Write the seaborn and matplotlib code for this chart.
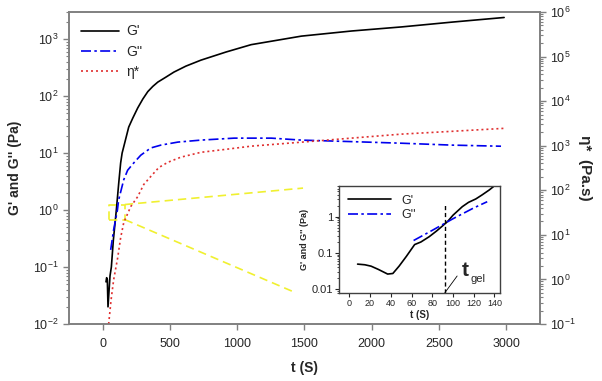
import numpy as np
import matplotlib
matplotlib.use("Agg")
import matplotlib.pyplot as plt
import matplotlib.ticker as mticker
import seaborn as sns
import pandas as pd

sns.set_style("ticks")
plt.rcParams['font.family'] = ['Liberation Sans', 'DejaVu Sans']
plt.rcParams['mathtext.default'] = 'regular'

# main curves
t_g1 = [25, 30, 35, 40, 55, 65, 80, 102, 120, 134, 145, 164, 194, 224, 261, 299, 336, 373,
        410, 470, 530, 619, 731, 918, 1104, 1478, 1851, 2224, 2597, 2985]
g1 = [0.055, 0.065, 0.06, 0.02, 0.07, 0.1, 0.3, 1.0, 3.0, 6.7, 10, 15, 28.6, 41, 62, 89,
      120, 148, 176, 215, 264, 336, 428, 595, 800, 1130, 1390, 1640, 1990, 2400]
t_g2 = [60, 82, 110, 119, 157, 186, 231, 284, 358, 433, 560, 731, 978, 1254, 1478, 1851,
        2224, 2597, 2962]
g2 = [0.2, 0.45, 1.0, 1.5, 3.4, 5.0, 6.7, 9.2, 12.3, 13.8, 15.6, 16.9, 18.3, 18.3, 16.9,
      15.9, 14.9, 13.8, 13.2]
t_eta = [45, 63, 82, 112, 134, 157, 209, 261, 306, 358, 418, 485, 582, 731, 918, 1104,
         1478, 1851, 2224, 2597, 2985]
eta = [0.1, 0.35, 0.98, 3.06, 8.6, 18.8, 43, 72, 135, 204, 324, 424, 553, 711, 830, 976,
       1200, 1480, 1820, 2100, 2450]

# zoom box + connector lines (yellow)
box_t = [45, 165]
box_g = [0.68, 1.25]
conn_top_end = [1490, 2.43]
conn_bot_end = [1440, 0.035]

# inset data
tin_g1 = [8, 15, 21, 28, 37, 42, 48, 55, 63, 69, 77, 84, 90, 95, 100, 109, 115, 122, 128, 135, 139]
gin_g1 = [0.049, 0.047, 0.043, 0.035, 0.026, 0.027, 0.043, 0.08, 0.17, 0.2, 0.28, 0.4, 0.56,
          0.75, 1.1, 1.9, 2.5, 3.1, 4.0, 5.5, 6.8]
tin_g2 = [62, 80, 100, 120, 133]
gin_g2 = [0.22, 0.42, 0.88, 1.75, 2.6]
t_gel = 92
gel_top = 2.4

main = pd.DataFrame({'t': t_g1, 'G': g1})
loss = pd.DataFrame({'t': t_g2, 'G': g2})
visc = pd.DataFrame({'t': t_eta, 'eta': eta})

fig = plt.figure(figsize=(6.02, 3.81), dpi=100)
ax = fig.add_axes([0.1146, 0.1496, 0.782, 0.819])
ax2 = ax.twinx()

sns.lineplot(data=main, x='t', y='G', ax=ax, color='black', lw=1.2, sort=False, legend=False)
sns.lineplot(data=loss, x='t', y='G', ax=ax, color='#0000ee', lw=1.2, sort=False, legend=False)
ax.lines[-1].set_dashes([6, 2, 1.5, 2])
sns.lineplot(data=visc, x='t', y='eta', ax=ax2, color='#e03030', lw=1.2, sort=False,
             legend=False)
ax2.lines[-1].set_dashes([1.2, 1.8])

yel = dict(color='#f0f030', lw=1.2, dashes=[5, 3])
ax.plot([box_t[0], box_t[1], box_t[1], box_t[0], box_t[0]],
        [box_g[0], box_g[0], box_g[1], box_g[1], box_g[0]], **yel)
ax.plot([box_t[1], conn_top_end[0]], [box_g[1], conn_top_end[1]], **yel)
ax.plot([box_t[1], conn_bot_end[0]], [box_g[0], conn_bot_end[1]], **yel)

ax.set_yscale('log')
ax2.set_yscale('log')
ax.set_xlim(-250, 3250)
ax.set_ylim(0.01, 3000)
ax2.set_ylim(0.1, 1e6)
ax.set_xticks(np.arange(0, 3001, 500))

spine_c = '#808080'
for a in (ax, ax2):
    for s in a.spines.values():
        s.set_color(spine_c)
        s.set_linewidth(1.2)
    a.tick_params(which='major', length=4, width=1, color=spine_c, labelsize=9, direction='out')
    a.tick_params(which='minor', length=2, width=0.8, color=spine_c, direction='out')
ax.tick_params(axis='x', pad=6)
ax.yaxis.set_minor_locator(mticker.LogLocator(subs=np.arange(2, 10)))
ax2.yaxis.set_minor_locator(mticker.LogLocator(subs=np.arange(2, 10)))

ax.set_xlabel('t (S)', fontsize=10, fontweight='bold', labelpad=8)
ax.set_ylabel("G' and G'' (Pa)", fontsize=10, fontweight='bold', labelpad=8)
ax2.set_ylabel('η*  (Pa.s)', fontsize=11, fontweight='bold', rotation=270, labelpad=12)

handles = [ax.lines[0], ax.lines[1], ax2.lines[0]]
ax.legend(handles, ["G'", "G''", "η*"], loc='upper left', frameon=False, fontsize=10,
          handlelength=2.7, handletextpad=0.5, labelspacing=0.45,
          bbox_to_anchor=(0.0, 1.0), borderaxespad=0.5)

# inset
axin = fig.add_axes([0.563, 0.231, 0.267, 0.281])
sns.lineplot(x=tin_g1, y=gin_g1, ax=axin, color='black', lw=1.2, legend=False)
sns.lineplot(x=tin_g2, y=gin_g2, ax=axin, color='#0000ee', lw=1.2, legend=False)
axin.lines[-1].set_dashes([6, 2, 1.5, 2])
axin.set_yscale('log')
axin.set_xlim(-10, 145)
axin.set_ylim(0.0078, 7.1)
axin.plot([t_gel, t_gel], [0.0078, gel_top], color='black', lw=1, ls=(0, (3, 2)))
axin.plot([t_gel, 104], [0.0078, 0.023], color='black', lw=0.6)
axin.text(108, 0.032, 't', fontsize=15, fontweight='bold', ha='left', va='center')
axin.text(117, 0.019, 'gel', fontsize=8, ha='left', va='center')
axin.set_xticks(np.arange(0, 141, 20))
axin.set_yticks([0.01, 0.1, 1])
axin.set_yticklabels(['0.01', '0.1', '1'])
axin.yaxis.set_minor_locator(mticker.LogLocator(subs=np.arange(2, 10)))
axin.yaxis.set_minor_formatter(mticker.NullFormatter())
for s in axin.spines.values():
    s.set_color('#404040')
    s.set_linewidth(1)
axin.tick_params(axis='x', which='major', length=3, labelsize=6.5, pad=1.5)
axin.tick_params(axis='y', which='major', length=3, labelsize=8, pad=1)
axin.tick_params(which='minor', length=1.5)
axin.set_xlabel('t (S)', fontsize=7, fontweight='bold', labelpad=1)
axin.set_ylabel("G' and G'' (Pa)", fontsize=6.5, fontweight='bold', labelpad=2)
axin.legend(axin.lines[:2], ["G'", "G''"], loc='upper left', frameon=False, fontsize=9,
            handlelength=3.5, labelspacing=0.2, borderaxespad=0.3)

fig.savefig('out.png', dpi=100)
